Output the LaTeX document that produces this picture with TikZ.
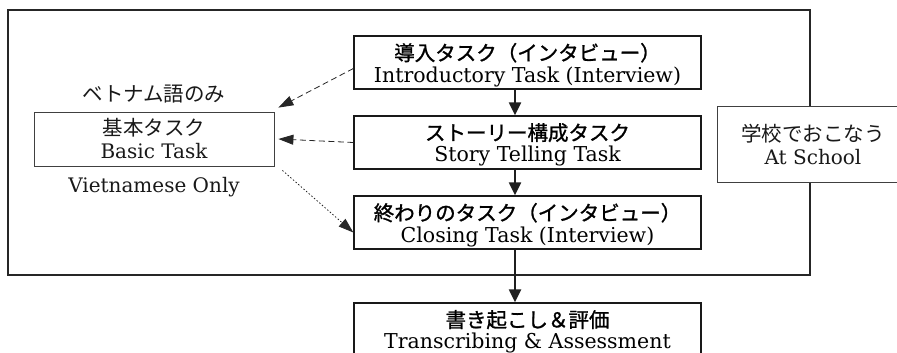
\documentclass[tikz,border=0pt]{standalone}
\usepackage{fontspec}
\setmainfont{DejaVu Serif}
\newfontfamily\jp{Noto Sans CJK JP}
\newfontfamily\jpm{Noto Sans CJK JP}[FakeBold=1.2]
\usetikzlibrary{arrows.meta}
\begin{document}
\begin{tikzpicture}[x=1pt,y=-1pt,
  taskbox/.style={draw=black!90, line width=1.3pt, fill=white, minimum width=347pt, minimum height=53pt, inner sep=0pt, align=center, font=\fontsize{20.5}{21.5}\selectfont, text=black, text depth=0pt},
  plainbox/.style={draw=black!75, line width=0.8pt, fill=white, inner sep=0pt, align=center, font=\fontsize{20}{23}\selectfont, text=black!90},
  flow/.style={line width=2.2pt, draw=black!88, -{Triangle[length=13pt,width=12pt]}},
  dasharrow/.style={line width=0.8pt, draw=black!85, dash pattern=on 6pt off 3.5pt, -{Triangle[length=15pt,width=10pt]}},
  dotarrow/.style={line width=0.8pt, draw=black!85, dash pattern=on 1.5pt off 2pt, -{Triangle[length=15pt,width=10pt]}},
  note/.style={inner sep=0pt, font=\fontsize{20}{22}\selectfont, text=black!90}
]
\useasboundingbox (0,0) rectangle (897,353);
\clip (0,0) rectangle (897,353);
% outer frame
\draw[line width=2.6pt, draw=black!85] (8,10) rectangle (810,275);
% task boxes
\node[taskbox] (intro) at (527.5,62.5) {{\jpm\fontsize{20.5}{21}\selectfont 導入タスク（インタビュー）}\\Introductory Task\ (Interview)};
\node[taskbox] (story) at (527.5,142.5) {{\jpm\fontsize{20.5}{21}\selectfont ストーリー構成タスク}\\Story Telling Task};
\node[taskbox] (closing) at (527.5,222.5) {{\jpm\fontsize{20.5}{21}\selectfont 終わりのタスク（インタビュー）}\\Closing Task\ (Interview)};
\node[taskbox] (trans) at (527.5,329.5) {{\jpm\fontsize{20.5}{21}\selectfont 書き起こし＆評価}\\Transcribing \& Assessment};
% basic task
\node[plainbox, minimum width=240pt, minimum height=54pt] (basic) at (154,139) {{\jp\fontsize{20.5}{22}\selectfont 基本タスク}\\Basic Task};
\node[note] (vnja) at (154,94) {\jp\fontsize{20.5}{22}\selectfont ベトナム語のみ};
\node[note] (vnen) at (154,187) {Vietnamese Only};
% school
\node[plainbox, minimum width=192pt, minimum height=76pt] (school) at (813,144) {{\jp\fontsize{20.5}{22}\selectfont 学校でおこなう}\\At School};
% flow arrows
\draw[flow] ([xshift=-12.5pt]intro.south) -- ([xshift=-12.5pt]story.north);
\draw[flow] ([xshift=-12.5pt]story.south) -- ([xshift=-12.5pt]closing.north);
\draw[flow] ([xshift=-12.5pt]closing.south) -- ([xshift=-12.5pt]trans.north);
% side arrows
\coordinate (b1) at ([shift={(4pt,4pt)}]basic.north east);
\coordinate (b2) at ([xshift=4pt]basic.east);
\coordinate (b3) at ([shift={(8pt,-4pt)}]basic.south east);
\draw[dasharrow] ([yshift=-6pt]intro.west) -- (b1);
\draw[dasharrow] (story.west) -- (b2);
\draw[dotarrow] (b3) -- ([yshift=-10pt]closing.west);
\end{tikzpicture}
\end{document}
